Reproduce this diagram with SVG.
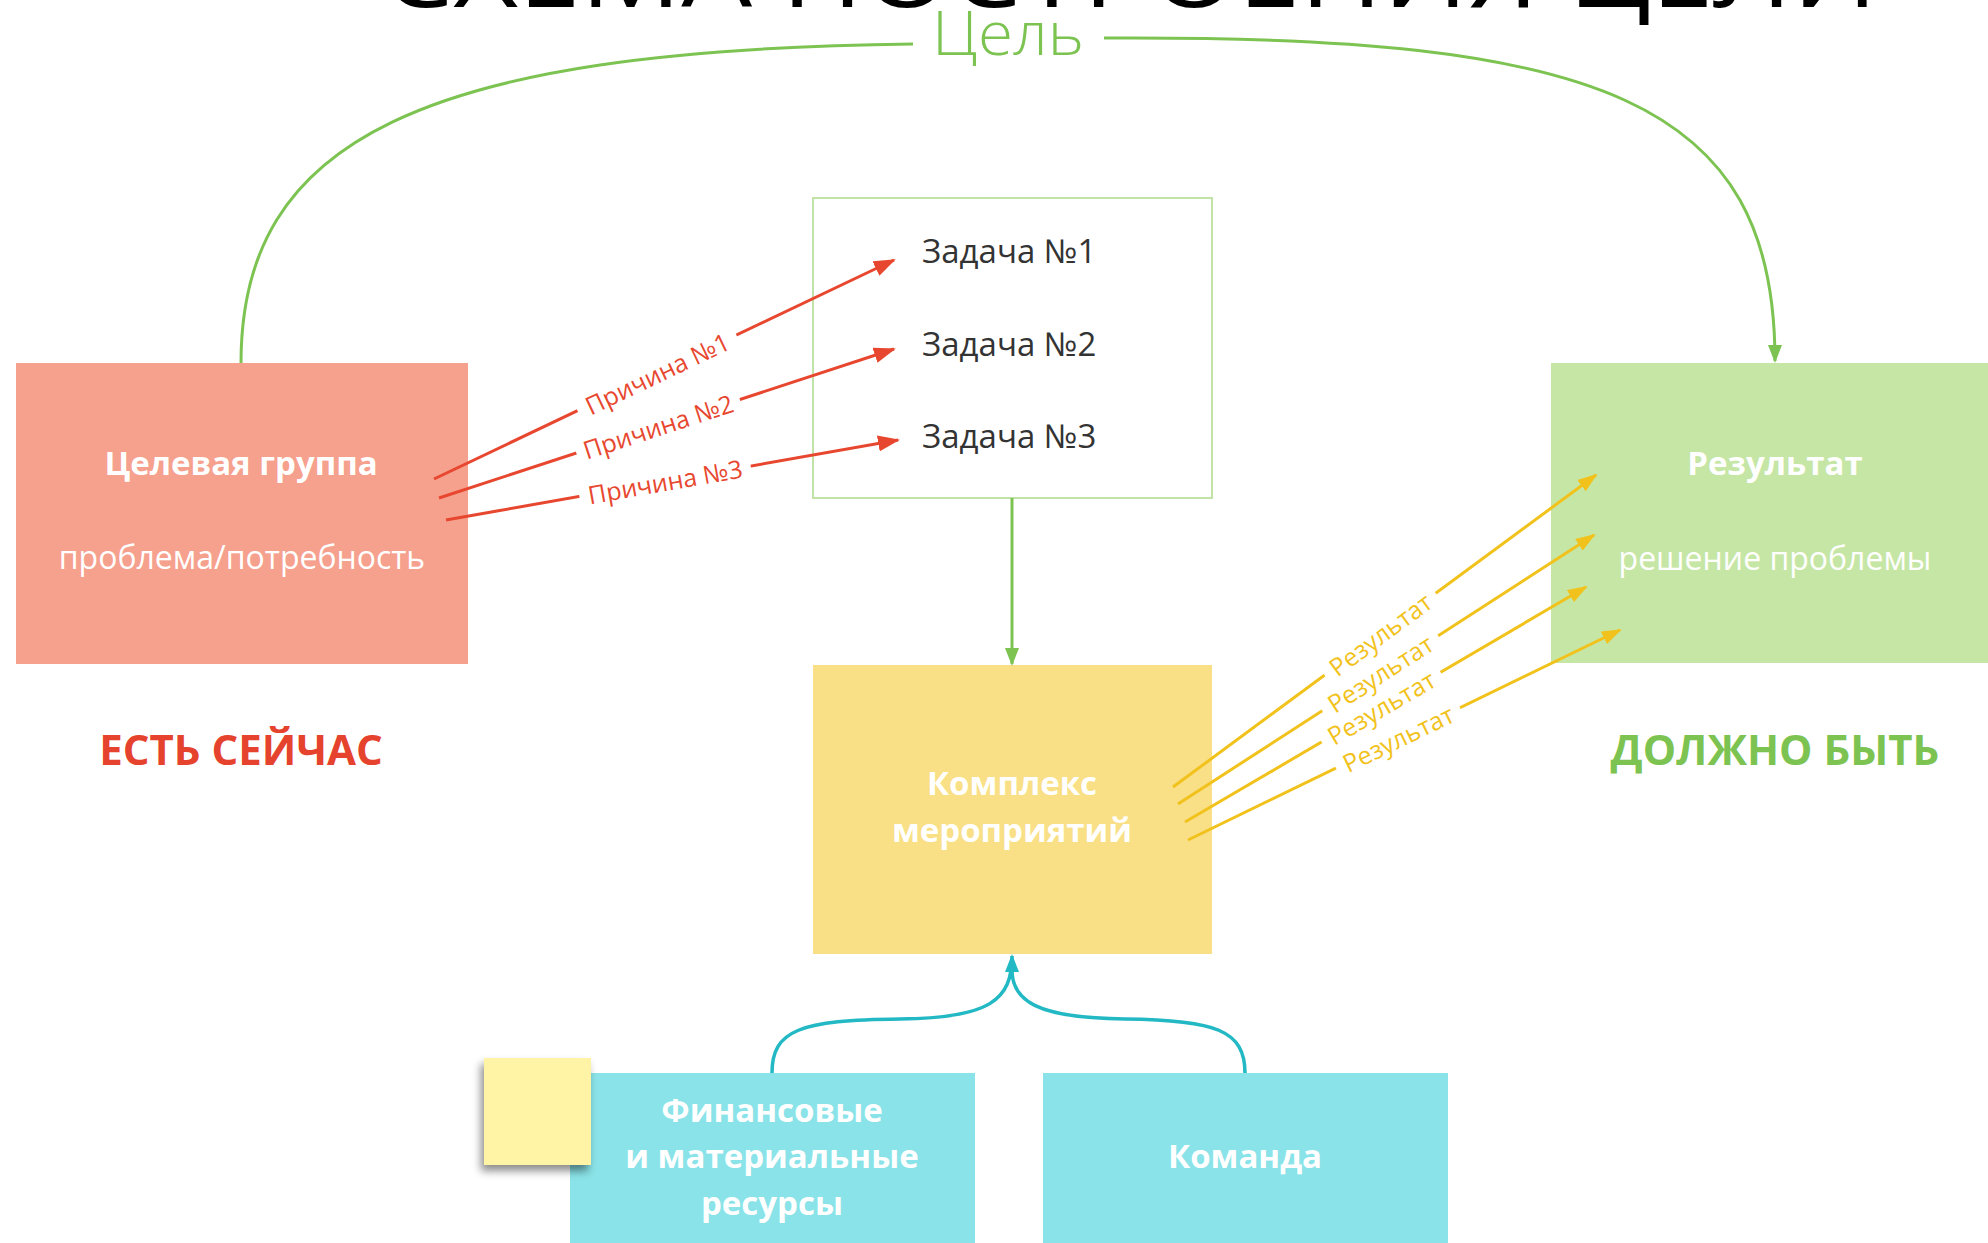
<svg xmlns="http://www.w3.org/2000/svg" width="1988" height="1243" viewBox="0 0 1988 1243">
<style>
text{font-family:"Open Sans","Noto Sans","Liberation Sans",sans-serif}
.bold{font-weight:700;font-size:33px;fill:#ffffff;text-anchor:middle}
.reg{font-weight:400;font-size:32px;fill:#ffffff;text-anchor:middle}
.task{font-weight:400;font-size:33px;fill:#333333}
.lbl{font-size:25px;text-anchor:middle;dominant-baseline:central}
.red{stroke:#E8472F;stroke-width:3;fill:none}
.yel{stroke:#F2C21C;stroke-width:3;fill:none}
.grn{stroke:#7DC352;stroke-width:3;fill:none}
.cyn{stroke:#22B8C4;stroke-width:3.5;fill:none}
</style>
<defs>
<marker id="mr" markerUnits="userSpaceOnUse" markerWidth="22" markerHeight="16" refX="20" refY="8" orient="auto"><path d="M0,0 L22,8 L0,16 z" fill="#E8472F"/></marker>
<marker id="my" markerUnits="userSpaceOnUse" markerWidth="20" markerHeight="14" refX="18" refY="7" orient="auto"><path d="M0,0 L20,7 L0,14 z" fill="#F2C21C"/></marker>
<marker id="mg" markerUnits="userSpaceOnUse" markerWidth="18" markerHeight="14" refX="16" refY="7" orient="auto"><path d="M0,0 L18,7 L0,14 z" fill="#7DC352"/></marker>
<marker id="mc" markerUnits="userSpaceOnUse" markerWidth="18" markerHeight="14" refX="16" refY="7" orient="auto"><path d="M0,0 L18,7 L0,14 z" fill="#22B8C4"/></marker>
<filter id="sh" x="-20%" y="-20%" width="150%" height="150%"><feDropShadow dx="-3" dy="6" stdDeviation="4" flood-color="#000" flood-opacity="0.45"/></filter>
</defs>
<rect width="1988" height="1243" fill="#ffffff"/>

<text x="1130" y="7" font-size="96" fill="#000" text-anchor="middle" textLength="1495" lengthAdjust="spacingAndGlyphs">СХЕМА ПОСТРОЕНИЯ ЦЕЛИ</text>

<g id="goal">
<text x="1008" y="55" font-size="60" font-weight="300" fill="#7DC352" text-anchor="middle" textLength="152" lengthAdjust="spacingAndGlyphs">Цель</text>
</g>

<g id="target-group">
<rect x="16" y="363" width="452" height="301" fill="#F6A08E"/>
<text class="bold" x="241" y="475">Целевая группа</text>
<text class="reg" x="242" y="569" fill="#FFF3EE">проблема/потребность</text>
</g>

<g id="tasks">
<rect x="813" y="198" width="399" height="300" fill="#ffffff" stroke="#C2E3A8" stroke-width="2"/>
<text class="task" x="922" y="263">Задача №1</text>
<text class="task" x="922" y="356">Задача №2</text>
<text class="task" x="922" y="448">Задача №3</text>
</g>

<g id="result">
<rect x="1551" y="363" width="437" height="300" fill="#C6E6A6"/>
<text class="bold" x="1775" y="475">Результат</text>
<text class="reg" x="1775" y="570">решение проблемы</text>
</g>

<g id="activities">
<rect x="813" y="665" width="399" height="289" fill="#F9DF86"/>
<text class="bold" x="1012" y="795">Комплекс</text>
<text class="bold" x="1012" y="842">мероприятий</text>
</g>

<g id="resources">
<rect x="570" y="1073" width="405" height="170" fill="#8AE3E8"/>
<text class="bold" x="772" y="1122">Финансовые</text>
<text class="bold" x="772" y="1168">и материальные</text>
<text class="bold" x="772" y="1215">ресурсы</text>
</g>

<g id="team">
<rect x="1043" y="1073" width="405" height="170" fill="#8AE3E8"/>
<text class="bold" x="1245" y="1168">Команда</text>
</g>

<g id="sticky-note">
<rect x="484" y="1058" width="107" height="107" fill="#FFF3A6" filter="url(#sh)"/>
</g>

<g id="now-label">
<text x="241" y="765" font-size="42" font-weight="700" fill="#E5432D" text-anchor="middle">ЕСТЬ СЕЙЧАС</text>
</g>
<g id="should-label">
<text x="1775" y="765" font-size="42" font-weight="700" fill="#7DC352" text-anchor="middle">ДОЛЖНО БЫТЬ</text>
</g>

<g id="connectors">
<path class="grn" d="M241,363 C241,140 420,50 913,44"/>
<path class="grn" d="M1104,38 C1600,35 1775,100 1775,361" marker-end="url(#mg)"/>
<path class="grn" d="M1012,498 L1012,664" marker-end="url(#mg)"/>

<path class="red" d="M434,479 L894,260" marker-end="url(#mr)"/>
<path class="red" d="M439,498 L894,349" marker-end="url(#mr)"/>
<path class="red" d="M446,520 L898,440" marker-end="url(#mr)"/>
<g transform="translate(657,373) rotate(-25.5)"><rect x="-88" y="-9" width="176" height="18" fill="#fff"/><text class="lbl" fill="#E8472F">Причина №1</text></g>
<g transform="translate(658,426) rotate(-18.1)"><rect x="-86" y="-9" width="172" height="18" fill="#fff"/><text class="lbl" fill="#E8472F">Причина №2</text></g>
<g transform="translate(665,481) rotate(-10)"><rect x="-87" y="-9" width="174" height="18" fill="#fff"/><text class="lbl" fill="#E8472F">Причина №3</text></g>

<path class="yel" d="M1173,787 L1596,475" marker-end="url(#my)"/>
<path class="yel" d="M1178,804 L1594,535" marker-end="url(#my)"/>
<path class="yel" d="M1185,822 L1586,587" marker-end="url(#my)"/>
<path class="yel" d="M1188,840 L1620,630" marker-end="url(#my)"/>
<g transform="translate(1380,634) rotate(-36.4)"><rect x="-69" y="-8" width="138" height="16" fill="#fff"/><text class="lbl" fill="#F2C21C">Результат</text></g>
<g transform="translate(1380,673) rotate(-32.9)"><rect x="-69" y="-8" width="138" height="16" fill="#fff"/><text class="lbl" fill="#F2C21C">Результат</text></g>
<g transform="translate(1381,707) rotate(-30.4)"><rect x="-69" y="-8" width="138" height="16" fill="#fff"/><text class="lbl" fill="#F2C21C">Результат</text></g>
<g transform="translate(1398,738) rotate(-25.9)"><rect x="-69" y="-8" width="138" height="16" fill="#fff"/><text class="lbl" fill="#F2C21C">Результат</text></g>

<path class="cyn" d="M772,1073 C772,1030 800,1020 900,1019 C990,1018 1012,1000 1012,956" marker-end="url(#mc)"/>
<path class="cyn" d="M1245,1073 C1245,1030 1215,1020 1125,1019 C1035,1018 1012,1000 1012,970"/>
</g>
</svg>
